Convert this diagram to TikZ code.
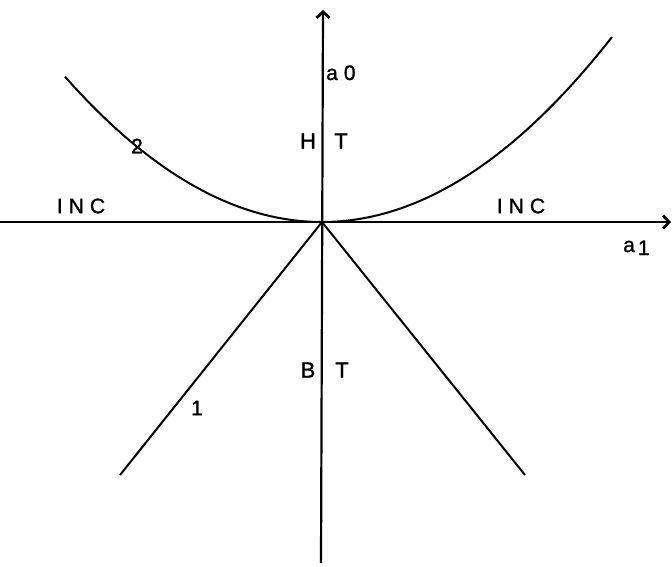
\documentclass[tikz,border=0pt]{standalone}
\usepackage{fontspec}
\setmainfont{Liberation Sans}
\newfontfamily\lblfont{Liberation Sans}[FakeBold=1.2]
\usetikzlibrary{arrows.meta}
\begin{document}
\begin{tikzpicture}[x=1pt,y=-1pt,
  axis/.style={line width=2.2pt,-{Straight Barb[length=6pt,width=13pt,line width=2.8pt]}},
  curve/.style={line width=2pt},
  lbl/.style={inner sep=0pt,font=\lblfont\fontsize{21}{21}\selectfont},
  big/.style={inner sep=0pt,font=\lblfont\fontsize{22}{22}\selectfont}]
\useasboundingbox (0,0) rectangle (672,566);
\coordinate (O) at (322,222);
\coordinate (xl) at (0,222);
\coordinate (xr) at (671,222);
\coordinate (yb) at (321,563);
\coordinate (yt) at (323,10);
\coordinate (e1) at (120,475);
\coordinate (e2) at (525,475);
\draw[axis] (xl) -- (xr);
\draw[axis] (yb) -- (yt);
\draw[curve] (O) -- (e1);
\draw[curve] (O) -- (e2);
\draw[curve] plot[domain=65:612,samples=120] (\x,{222-((\x-322)*0.0469)^2});
\node[big] (H) at (308,141) {H};
\node[big] (T1) at (341,141) {T};
\node[big] (B) at (308,370) {B};
\node[big] (T2) at (342,370) {T};
\node[lbl] (inc1) at (81,206) {I\hspace{6pt}N\hspace{6pt}C};
\node[lbl] (inc2) at (521,206) {I\hspace{6pt}N\hspace{6pt}C};
\node[lbl] (two) at (137,146) {2};
\node[lbl] (one) at (197,408) {1};
\node[lbl,anchor=base west] (a0) at (326,80) {a\hspace{6pt}0};
\node[lbl,anchor=base west] (a1) at (623,252) {a\hspace{3pt}\raisebox{-3pt}{1}};
\end{tikzpicture}
\end{document}
